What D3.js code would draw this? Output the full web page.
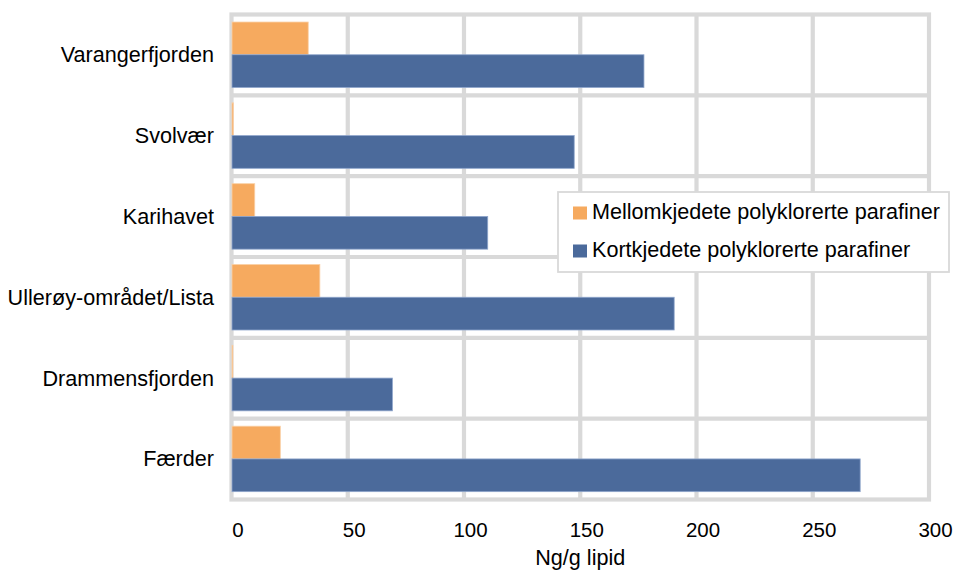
<!DOCTYPE html>
<html>
<head>
<meta charset="utf-8">
<script src="https://cdn.jsdelivr.net/npm/d3@7/dist/d3.min.js"></script>
<style>
  html, body { margin: 0; padding: 0; background: #ffffff; }
  svg { display: block; font-family: "Liberation Sans", Arial, sans-serif; }
</style>
</head>
<body>
<svg id="chart" width="958" height="572"></svg>
<script>
// ---- data ----
const categories = ["Varangerfjorden", "Svolvær", "Karihavet", "Ullerøy-området/Lista", "Drammensfjorden", "Færder"];
const seriesNames = ["Mellomkjedete polyklorerte parafiner", "Kortkjedete polyklorerte parafiner"];
const mellomkjedete = [33, 0.8, 10, 38, 0.6, 21];
const kortkjedete = [177.4, 147.4, 110.2, 190.4, 69.2, 270.4];
const xTicks = [0, 50, 100, 150, 200, 250, 300];
const xAxisTitle = "Ng/g lipid";
const colors = ["#F6AA5F", "#4B6A9B"];
const strokes = ["#FAD0A6", "#8FA6CC"];

(function () {
// ---- layout ----
const pLeft = 231.5, pRight = 929, pTop = 14.5, pBottom = 499.5;
const svg = d3.select("#chart");
const fs = 21.6;

const x = d3.scaleLinear().domain([0, 300]).range([pLeft, pRight]);
const y = d3.scaleBand().domain(categories).range([pTop, pBottom]).padding(0);
const bw = y.bandwidth();
const ySub = d3.scaleBand().domain(seriesNames).range([bw * 0.093, bw * 0.903]).padding(0);

const grid = "#D9D9D9";
const gw = 4.2;

// vertical gridlines
svg.append("g").selectAll("line").data(xTicks.slice(1, -1)).join("line")
  .attr("x1", d => x(d)).attr("x2", d => x(d))
  .attr("y1", pTop).attr("y2", pBottom)
  .attr("stroke", grid).attr("stroke-width", gw);

// horizontal category separators
svg.append("g").selectAll("line").data(categories.slice(1)).join("line")
  .attr("x1", pLeft).attr("x2", pRight)
  .attr("y1", d => y(d)).attr("y2", d => y(d))
  .attr("stroke", grid).attr("stroke-width", gw);

// plot border
svg.append("rect")
  .attr("x", pLeft).attr("y", pTop)
  .attr("width", pRight - pLeft).attr("height", pBottom - pTop)
  .attr("fill", "none").attr("stroke", grid).attr("stroke-width", gw);

// bars
const data = categories.map((c, i) => ({ cat: c, vals: [mellomkjedete[i], kortkjedete[i]] }));
const groups = svg.append("g").selectAll("g").data(data).join("g")
  .attr("transform", d => `translate(0,${y(d.cat)})`);
groups.selectAll("rect").data(d => d.vals.map((v, k) => ({ v, k }))).join("rect")
  .attr("x", x(0) + 0.5)
  .attr("y", d => ySub(seriesNames[d.k]))
  .attr("width", d => Math.max(0.8, x(d.v) - x(0) - 0.5))
  .attr("height", ySub.bandwidth())
  .attr("fill", d => colors[d.k])
  .attr("stroke", d => strokes[d.k])
  .attr("stroke-width", 0.8);

// y axis labels
svg.append("g").selectAll("text").data(categories).join("text")
  .attr("x", 214)
  .attr("y", d => y(d) + bw / 2 + 7.4)
  .attr("text-anchor", "end")
  .attr("font-size", fs)
  .attr("fill", "#000")
  .text(d => d);

// x axis tick labels
const xAxis = d3.axisBottom(x).tickValues(xTicks).tickSize(0).tickPadding(0).tickFormat(d3.format("d"));
const xg = svg.append("g").attr("transform", `translate(0,${pBottom})`).call(xAxis);
xg.select(".domain").remove();
xg.selectAll("text")
  .attr("font-family", "'Liberation Sans', Arial, sans-serif")
  .attr("font-size", 20.5)
  .attr("fill", "#000")
  .attr("dy", null)
  .attr("y", 37.5)
  .attr("dx", 6);

// x axis title
svg.append("text")
  .attr("x", (pLeft + pRight) / 2)
  .attr("y", 565)
  .attr("text-anchor", "middle")
  .attr("font-size", fs)
  .attr("fill", "#000")
  .text(xAxisTitle);

// legend
const lg = svg.append("g").attr("transform", "translate(558,192)");
lg.append("rect").attr("x", 0).attr("y", 0).attr("width", 391).attr("height", 80)
  .attr("fill", "#fff").attr("stroke", grid).attr("stroke-width", 1.8);
const items = lg.selectAll("g.item").data(seriesNames).join("g").attr("class", "item")
  .attr("transform", (d, i) => `translate(0,${i * 38})`);
items.append("rect").attr("x", 15).attr("y", 14.5).attr("width", 14).attr("height", 13)
  .attr("fill", (d, i) => colors[i]);
items.append("text").attr("x", 34).attr("y", 27).attr("font-size", fs).attr("fill", "#000")
  .text(d => d);
})();
</script>
</body>
</html>
